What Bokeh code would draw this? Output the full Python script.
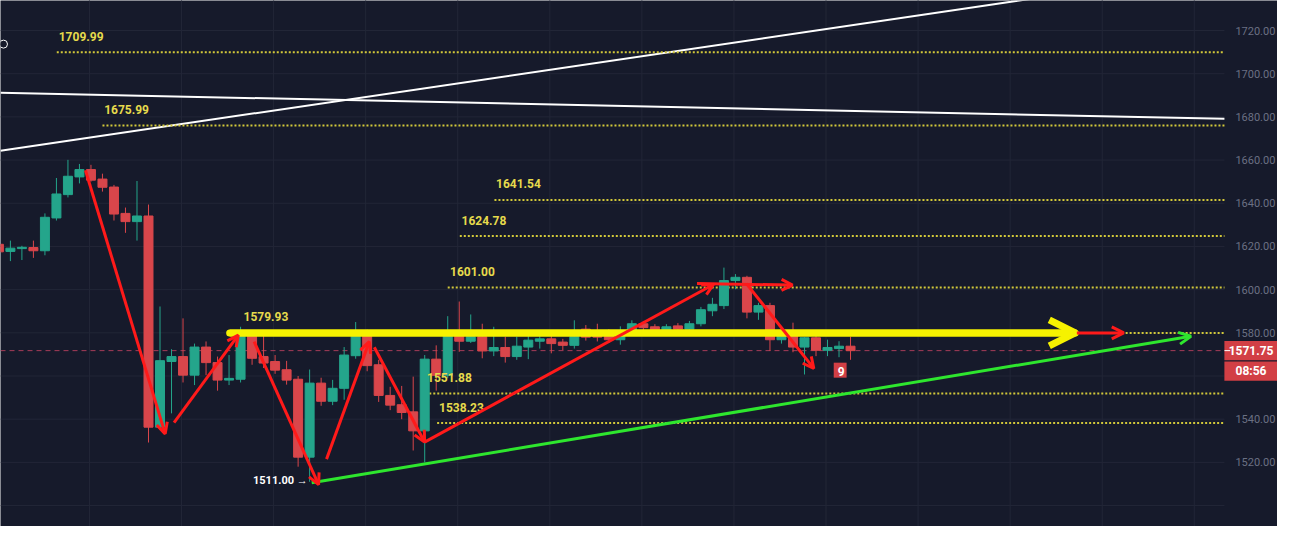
import numpy as np
from bokeh.plotting import figure
from bokeh.models import ColumnDataSource, Range1d, Label, Arrow, OpenHead
from bokeh.core.properties import value
from bokeh.embed import file_html
from bokeh.resources import INLINE

# ---------------- data ----------------
opens = [1621.0, 1617.7, 1619.0, 1619.5, 1618.0, 1633.2, 1644.0, 1652.2, 1655.6, 1651.2,
         1647.5, 1635.3, 1631.5, 1634.1, 1536.3, 1566.7, 1569.0, 1560.4, 1573.4, 1566.2,
         1558.1, 1558.5, 1578.7, 1569.0, 1566.7, 1562.9, 1558.5, 1522.4, 1556.7, 1548.3,
         1554.3, 1569.4, 1578.7, 1565.2, 1551.0, 1546.7, 1543.4, 1534.6, 1567.8, 1560.3,
         1578.7, 1576.1, 1578.2, 1571.6, 1573.2, 1569.0, 1573.4, 1576.1, 1577.2, 1575.7,
         1574.2, 1581.7, 1580.6, 1580.2, 1576.8, 1580.6, 1584.2, 1582.8, 1580.6, 1583.2,
         1581.7, 1584.2, 1590.2, 1592.6, 1604.2, 1605.7, 1589.6, 1592.6, 1576.8, 1578.7,
         1573.4, 1577.7, 1571.9, 1572.7, 1573.8]
highs = [1622.5, 1622.7, 1620.3, 1622.7, 1635.3, 1651.7, 1660.1, 1658.2, 1657.8, 1653.7,
         1648.5, 1638.0, 1650.3, 1639.4, 1592.2, 1572.4, 1586.7, 1575.0, 1576.0, 1569.0,
         1569.7, 1582.8, 1581.0, 1578.7, 1569.7, 1567.0, 1560.0, 1563.0, 1559.2, 1558.2,
         1573.4, 1585.0, 1581.5, 1567.5, 1555.0, 1555.4, 1559.7, 1569.7, 1574.2, 1587.7,
         1594.5, 1588.5, 1584.2, 1582.8, 1578.2, 1578.2, 1581.3, 1580.2, 1580.2, 1577.2,
         1585.8, 1583.6, 1584.2, 1581.7, 1583.0, 1585.8, 1585.5, 1584.0, 1584.0, 1584.5,
         1585.5, 1592.0, 1596.2, 1610.2, 1607.2, 1606.4, 1593.9, 1593.9, 1580.0, 1584.7,
         1578.0, 1578.7, 1576.8, 1576.1, 1578.2]
lows = [1616.0, 1613.2, 1613.7, 1614.7, 1615.9, 1632.0, 1642.7, 1649.2, 1650.0, 1645.4,
        1632.0, 1626.3, 1622.7, 1529.2, 1535.0, 1542.7, 1557.0, 1555.8, 1560.4, 1553.2,
        1555.8, 1557.0, 1565.2, 1563.7, 1561.0, 1556.0, 1518.0, 1511.0, 1546.2, 1546.5,
        1549.0, 1568.0, 1562.2, 1548.0, 1544.2, 1540.0, 1525.5, 1520.0, 1553.2, 1559.0,
        1571.2, 1575.3, 1568.2, 1569.2, 1566.2, 1567.5, 1567.8, 1572.7, 1570.5, 1572.0,
        1572.7, 1576.4, 1576.0, 1575.3, 1574.5, 1579.5, 1581.0, 1579.5, 1579.8, 1580.5,
        1580.5, 1583.0, 1587.7, 1591.0, 1600.2, 1586.7, 1586.0, 1571.6, 1575.0, 1571.0,
        1560.7, 1569.2, 1569.2, 1568.7, 1567.5]
closes = [1617.5, 1619.2, 1619.6, 1618.0, 1633.5, 1644.3, 1652.5, 1655.6, 1650.7, 1647.4,
          1635.0, 1631.5, 1634.1, 1536.3, 1567.1, 1569.0, 1560.4, 1573.4, 1566.2, 1558.1,
          1558.9, 1580.5, 1568.2, 1566.0, 1562.7, 1558.1, 1522.4, 1556.7, 1548.3, 1554.3,
          1569.7, 1579.0, 1564.8, 1551.0, 1546.5, 1543.1, 1534.6, 1567.8, 1560.3, 1579.5,
          1576.1, 1578.2, 1571.6, 1573.2, 1569.0, 1573.8, 1576.6, 1577.2, 1575.0, 1574.2,
          1578.2, 1578.0, 1578.0, 1576.8, 1580.6, 1584.2, 1582.4, 1580.6, 1582.8, 1581.7,
          1584.2, 1590.7, 1593.2, 1604.2, 1605.7, 1589.6, 1592.6, 1576.8, 1578.7, 1573.4,
          1577.7, 1571.9, 1573.2, 1573.8, 1571.75]

# horizontal levels: price and starting candle index
level_prices = [1709.99, 1675.99, 1641.54, 1624.78, 1601.00, 1579.93, 1551.88, 1538.23]
level_starts = [5.03, 9.0, 43.06, 40.05, 39.0, 20.05, 37.05, 38.08]
level_label_x = [5.2, 9.15, 43.2, 40.2, 39.2, 21.26, 37.2, 38.25]
level_labels = ["1709.99", "1675.99", "1641.54", "1624.78", "1601.00", "1579.93", "1551.88", "1538.23"]

# red zig-zag arrows (candle index, price)
red_x0 = [7.52, 15.22, 22.18, 28.47, 32.62, 36.99, 60.66, 64.95]
red_y0 = [1655.3, 1538.4, 1575.9, 1521.5, 1573.3, 1529.4, 1602.8, 1602.8]
red_x1 = [14.45, 20.80, 27.78, 32.18, 36.99, 62.09, 68.96, 70.81]
red_y1 = [1533.2, 1578.9, 1509.7, 1575.9, 1529.4, 1602.4, 1602.1, 1563.5]

# trend lines (white)
white_x0 = [0.14, 0.14]
white_y0 = [1691.2, 1664.3]
white_x1 = [106.49, 106.49]
white_y1 = [1679.1, 1747.9]

# green support line
green_x = [27.18, 103.58]
green_y = [1510.6, 1578.4]

# yellow resistance arrow + red extension
yellow_x = [20.05, 93.53]
yellow_red_x = [93.53, 97.74]

y_ticks = [1520, 1540, 1580, 1600, 1620, 1640, 1660, 1680, 1700, 1720]
grid_prices = list(range(1500, 1740, 20))
grid_x = [7.87 + 8 * n for n in range(13)]
last_price = 1571.75
countdown = "08:56"
low_label = "1511.00 →"
badge = "9"

# ---------------- styling ----------------
BG = "#161a2b"
GRID = "#222637"
UP = "#24a58b"
DN = "#d9464b"
TAG = "#d23f45"
YEL_TXT = "#e6da4c"
YEL_DOT = "#d2c83a"
FONT = "Roboto"
X_END = 106.49       # right edge of the price pane
X_AX = 107.44        # left edge of the price-scale labels
X_TAG = 108.8        # centre of the price-scale tags

x = np.arange(len(opens))
o = np.array(opens); c = np.array(closes)
src = ColumnDataSource(dict(
    x=x, top=np.maximum(o, c), bottom=np.minimum(o, c), high=highs, low=lows,
    color=[UP if cc >= oo else DN for oo, cc in zip(opens, closes)]))

p = figure(width=1277, height=526, output_backend="svg", toolbar_location=None,
           x_range=Range1d(0.14, 111.1), y_range=Range1d(1490.3, 1733.9),
           x_axis_location=None, y_axis_location=None,
           min_border_left=0, min_border_top=0, min_border_bottom=0, min_border_right=0)
p.background_fill_color = BG
p.border_fill_color = BG
p.outline_line_color = None
p.grid.visible = False

# grid
p.segment(x0=[0.14] * len(grid_prices), y0=grid_prices, x1=[X_END] * len(grid_prices),
          y1=grid_prices, line_color=GRID, line_width=1)
p.segment(x0=grid_x, y0=[1480] * len(grid_x), x1=grid_x, y1=[1740] * len(grid_x),
          line_color=GRID, line_width=1)

# price scale labels
p.text(x=[X_AX] * len(y_ticks), y=y_ticks, text=[f"{t:.2f}" for t in y_ticks],
       text_font=value(FONT), text_font_size="11px", text_color="#6b7083",
       text_align="left", text_baseline="middle")

# white trend lines
p.segment(x0=white_x0, y0=white_y0, x1=white_x1, y1=white_y1, line_color="white", line_width=2)
p.scatter(x=[0.40], y=[1713.7], size=8, marker="circle", fill_color=BG, line_color="white",
          line_width=1)

# dotted level lines
for pr, st in zip(level_prices, level_starts):
    p.line(x=[st, X_END], y=[pr, pr], line_color=YEL_DOT, line_width=2, line_dash="2 2")

# last price dashed line
p.line(x=[0.14, X_END], y=[last_price, last_price], line_color="#a63c58", line_dash="5 4",
       line_width=1)

# candles
p.segment(x0="x", y0="high", x1="x", y1="low", color="color", line_width=1, source=src)
p.vbar(x="x", top="top", bottom="bottom", width=0.78, fill_color="color", line_color="color",
       source=src)

# level labels
for lx, pr, t in zip(level_label_x, level_prices, level_labels):
    p.add_layout(Label(x=lx, y=pr, y_offset=16, text=t, text_font=FONT, text_font_size="12px",
                       text_color=YEL_TXT, text_baseline="middle", text_font_style="bold"))

# green support arrow
p.add_layout(Arrow(x_start=green_x[0], y_start=green_y[0], x_end=green_x[1], y_end=green_y[1],
                   line_color="#2ee62e", line_width=3,
                   end=OpenHead(size=12, line_color="#2ee62e", line_width=3)))

# yellow arrow + red continuation
p.add_layout(Arrow(x_start=yellow_red_x[0], y_start=level_prices[5], x_end=yellow_red_x[1],
                   y_end=level_prices[5], line_color="#ff1a1a", line_width=3,
                   end=OpenHead(size=12, line_color="#ff1a1a", line_width=3)))
p.line(x=yellow_x, y=[level_prices[5]] * 2, line_color="#f6f200", line_width=7, line_cap="round")
p.add_layout(Arrow(x_start=yellow_x[0], y_start=level_prices[5], x_end=yellow_x[1],
                   y_end=level_prices[5], line_color="#f6f200", line_width=7,
                   end=OpenHead(size=26, line_color="#f6f200", line_width=7)))

# red zig-zag arrows
for a, b, cc, d in zip(red_x0, red_y0, red_x1, red_y1):
    p.add_layout(Arrow(x_start=a, y_start=b, x_end=cc, y_end=d, line_color="#ff1a1a",
                       line_width=3, end=OpenHead(size=11, line_color="#ff1a1a", line_width=3)))

# low label
p.add_layout(Label(x=26.84, y=1511.5, text=low_label, text_font=FONT, text_font_size="11px",
                   text_color="white", text_align="right", text_baseline="middle",
                   text_font_style="bold"))

# badge
p.add_layout(Label(x=73.1, y=1562.7, text=badge, text_font=FONT, text_font_size="12px",
                   text_color="white", text_align="center", text_baseline="middle",
                   text_font_style="bold", background_fill_color=TAG, padding=[4, 2, 4, 2]))

# price scale tags
tag_y = [last_price, last_price - 9.5]
p.rect(x=[X_TAG, X_TAG], y=tag_y, width=4.63, height=[9.0, 9.0], fill_color=TAG,
       line_color=None)
p.text(x=[X_TAG, X_TAG], y=tag_y, text=[f"{last_price:.2f}", countdown],
       text_font=value(FONT), text_font_size="12px", text_font_style="bold",
       text_color="white", text_align="center", text_baseline="middle")
p.segment(x0=[X_END], y0=[last_price], x1=[X_END + 0.5], y1=[last_price], line_color="white",
          line_width=1)

open("out.html", "w").write(file_html(p, INLINE))
